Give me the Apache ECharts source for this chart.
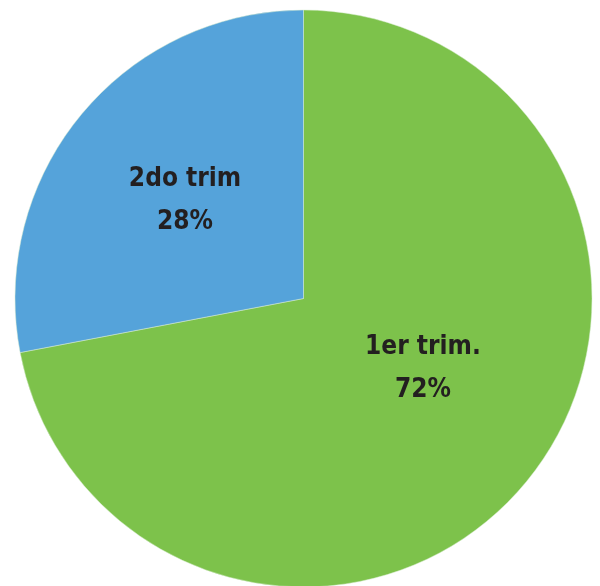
<!DOCTYPE html>
<html>
<head>
<meta charset="utf-8">
<script src="https://cdn.jsdelivr.net/npm/echarts@6/dist/echarts.min.js"></script>
<style>
  html, body { margin: 0; padding: 0; background: #ffffff; }
  #chart { width: 600px; height: 586px; }
</style>
</head>
<body>
<div id="chart"></div>
<script>
// Share of the year by term
const categories = ['1er trim.', '2do trim'];
const shares = [72, 28];
const sliceColors = ['#7dc24b', '#55a3da'];
const labelOffsets = [[6, -24], [-5, -4]];

const chart = echarts.init(document.getElementById('chart'), null, { renderer: 'canvas' });

chart.setOption({
  animation: false,
  series: [{
    type: 'pie',
    center: [303.5, 298.5],
    radius: 288.5,
    startAngle: 90,
    clockwise: true,
    itemStyle: { borderColor: '#d8ecd0', borderWidth: 0.5 },
    label: {
      show: true,
      position: 'inside',
      formatter: p => p.name + '\n' + Math.round(p.percent) + '%',
      fontFamily: '"DejaVu Sans Condensed", "Liberation Sans Narrow", sans-serif',
      fontWeight: 'bold',
      fontSize: 26,
      lineHeight: 43,
      color: '#231f20',
      align: 'center'
    },
    labelLine: { show: false },
    emphasis: { disabled: true },
    data: categories.map((name, i) => ({
      name: name,
      value: shares[i],
      itemStyle: { color: sliceColors[i] },
      label: { offset: labelOffsets[i] }
    }))
  }]
});
</script>
</body>
</html>
